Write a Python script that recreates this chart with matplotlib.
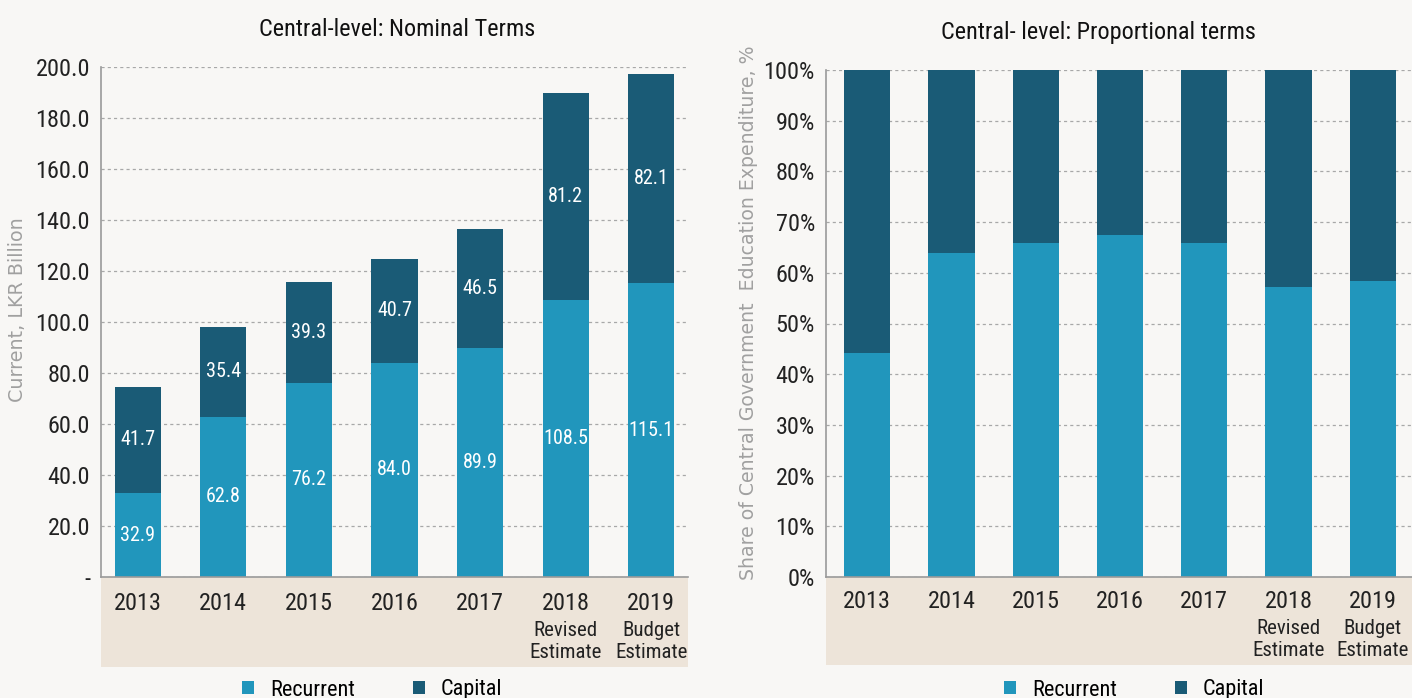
import matplotlib
matplotlib.use('Agg')
import matplotlib.pyplot as plt
from matplotlib.patches import Rectangle, Patch
from matplotlib import font_manager
import numpy as np

years = ['2013', '2014', '2015', '2016', '2017', '2018', '2019']
notes = ['', '', '', '', '', 'Revised\nEstimate', 'Budget\nEstimate']
recurrent = np.array([32.9, 62.8, 76.2, 84.0, 89.9, 108.5, 115.1])
capital = np.array([41.7, 35.4, 39.3, 40.7, 46.5, 81.2, 82.1])
nominal_ticks = [0, 20, 40, 60, 80, 100, 120, 140, 160, 180, 200]
share_ticks = [0, 10, 20, 30, 40, 50, 60, 70, 80, 90, 100]

blue = '#2196bc'
navy = '#1a5b76'
bg = '#f8f7f5'
band = '#ede4d9'
grid_c = '#a8a8a8'

# condensed font for most text
names = {f.name for f in font_manager.fontManager.ttflist}
narrow = 'DejaVu Sans'
for cand in ['Roboto Condensed', 'Archivo Narrow', 'PT Sans Narrow', 'Fira Sans Condensed',
             'Sofia Sans Condensed', 'Liberation Sans Narrow']:
    if cand in names:
        narrow = cand
        break
plt.rcParams['font.family'] = [narrow, 'DejaVu Sans']

W, H = 1412, 698
fig = plt.figure(figsize=(W / 100, H / 100), dpi=100, facecolor=bg)


def axes_px(x0, x1, ytop, ybot):
    return fig.add_axes([x0 / W, 1 - ybot / H, (x1 - x0) / W, (ybot - ytop) / H])


def style(ax, band_px, height_px):
    ax.set_facecolor(bg)
    for s in ['top', 'right']:
        ax.spines[s].set_visible(False)
    for s in ['left', 'bottom']:
        ax.spines[s].set_color('#9a9a9a')
        ax.spines[s].set_linewidth(1.2)
    ax.yaxis.grid(True, linestyle=(0, (2.5, 2.5)), color=grid_c, linewidth=0.9)
    ax.set_axisbelow(True)
    ax.tick_params(axis='y', length=0, labelsize=17.5, labelcolor='#222222', pad=8)
    ax.tick_params(axis='x', length=0, labelbottom=False)
    h = band_px / height_px
    ax.add_patch(Rectangle((0, -h), 1, h, transform=ax.transAxes,
                           facecolor=band, edgecolor='none', clip_on=False, zorder=0))


def cat_labels(ax, height_px, y_year, y_n1, y_n2):
    tr = ax.get_xaxis_transform()
    for i, (yr, nt) in enumerate(zip(years, notes)):
        ax.text(i, -y_year / height_px, yr, transform=tr, ha='center', va='center',
                fontsize=17.5, color='#222222')
        if nt:
            l1, l2 = nt.split('\n')
            ax.text(i, -y_n1 / height_px, l1, transform=tr, ha='center', va='center',
                    fontsize=15, color='#222222')
            ax.text(i, -y_n2 / height_px, l2, transform=tr, ha='center', va='center',
                    fontsize=15, color='#222222')


x = np.arange(len(years))

# left: nominal
ax1 = axes_px(101, 688, 67, 577)
style(ax1, 90, 510)
ax1.bar(x, recurrent, width=0.54, color=blue, zorder=2)
ax1.bar(x, capital, width=0.54, bottom=recurrent, color=navy, zorder=2)
for i in range(len(x)):
    ax1.text(x[i], recurrent[i] / 2, f'{recurrent[i]:.1f}', ha='center', va='center',
             color='white', fontsize=14.5, zorder=3)
    ax1.text(x[i], recurrent[i] + capital[i] / 2, f'{capital[i]:.1f}', ha='center',
             va='center', color='white', fontsize=14.5, zorder=3)
ax1.set_xlim(-0.43, 6.43)
ax1.set_ylim(0, 200)
ax1.set_yticks(nominal_ticks)
ax1.set_yticklabels(['-'] + [f'{t:.1f}' for t in nominal_ticks[1:]])
cat_labels(ax1, 510, 26, 53, 75)
fig.text(397 / W, 1 - 29 / H, 'Central-level: Nominal Terms', ha='center', va='center',
         fontsize=17.5, color='#111111')
fig.text(18 / W, 1 - 310 / H, 'Current, LKR Billion', rotation=90, ha='center',
         va='center', fontsize=13.8, color='#a0a0a0', family='DejaVu Sans')

# right: proportional
total = recurrent + capital
rec_share = recurrent / total * 100
cap_share = capital / total * 100
ax2 = axes_px(826, 1414, 70, 577)
style(ax2, 88, 507)
ax2.bar(x, rec_share, width=0.55, color=blue, zorder=2)
ax2.bar(x, cap_share, width=0.55, bottom=rec_share, color=navy, zorder=2)
ax2.set_xlim(-0.49, 6.49)
ax2.set_ylim(0, 100)
ax2.set_yticks(share_ticks)
ax2.set_yticklabels([f'{t}%' for t in share_ticks])
cat_labels(ax2, 507, 24, 52, 74)
fig.text(1098 / W, 1 - 32 / H, 'Central- level: Proportional terms', ha='center',
         va='center', fontsize=17.5, color='#111111')
fig.text(748 / W, 1 - 313 / H, 'Share of Central Government  Education Expenditure, %',
         rotation=90, ha='center', va='center', fontsize=13.6, color='#a0a0a0',
         family='DejaVu Sans')

handles = [Patch(facecolor=blue), Patch(facecolor=navy)]
for cx in [372, 1134]:
    fig.legend(handles, ['Recurrent', 'Capital'], loc='center',
               bbox_to_anchor=(cx / W, 1 - 690 / H), ncol=2, frameon=False,
               fontsize=16, handlelength=0.55, handleheight=0.55,
               handletextpad=0.7, columnspacing=2.6)

fig.savefig('out.png', dpi=100, facecolor=bg)
